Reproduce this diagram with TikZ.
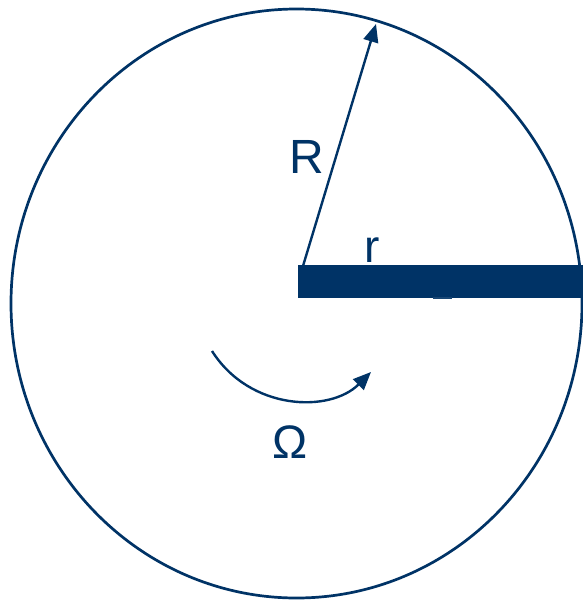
\documentclass[tikz,border=0pt]{standalone}
\usepackage{fontspec}
\setmainfont{Liberation Sans}
\usetikzlibrary{arrows.meta}
\definecolor{navy}{RGB}{0,51,102}
\begin{document}
\begin{tikzpicture}[x=1pt,y=-1pt,
  lbl/.style={text=navy,inner sep=0pt,anchor=base},
  ln/.style={draw=navy,line width=2.4pt},
  tip/.style={-{Triangle[length=18pt,width=15pt]}}]
\useasboundingbox (0,0) rectangle (583,600);
\draw[ln,line width=2.7pt] (296.5,303.5) ellipse [x radius=285.5, y radius=294.5];
\coordinate (c) at (303,266);
\coordinate (rim) at (376,24);
\fill[navy] (298,265) rectangle (583,298);
\fill[navy!90] (433,297) rectangle (452,299);
\draw[ln,tip] (c) -- (rim);
\coordinate (s) at (212,351);
\coordinate (e) at (371,372);
\draw[ln,tip] (s) .. controls (250,411) and (330,413) .. (e);
\node[lbl,font=\fontsize{48}{48}\selectfont] (R) at (307,173) {R};
\node[lbl,font=\fontsize{46}{46}\selectfont] (r) at (372,262) {r};
\node[lbl,font=\fontsize{47}{47}\selectfont] (W) at (290,458) {Ω};
\end{tikzpicture}
\end{document}
